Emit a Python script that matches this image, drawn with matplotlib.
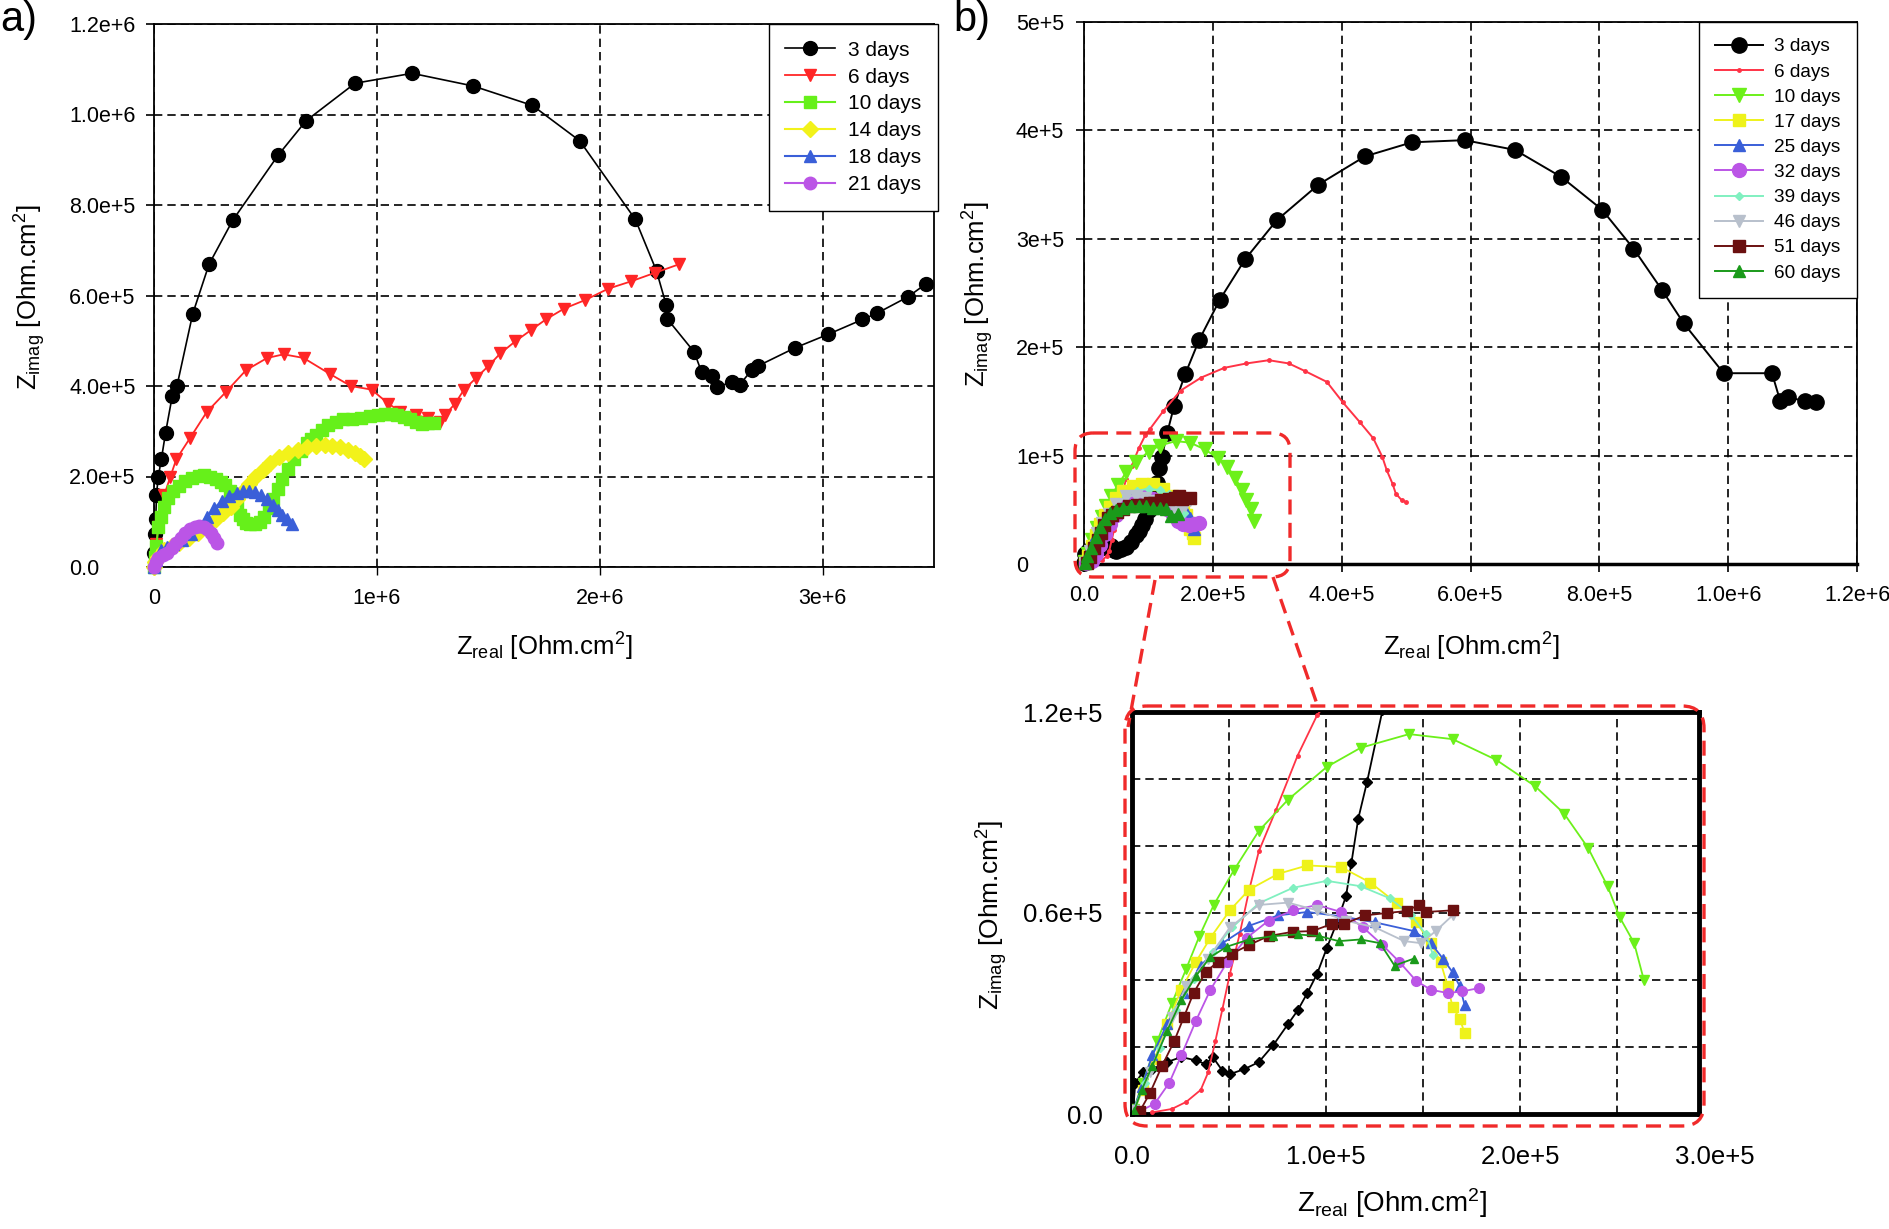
import numpy as np
import matplotlib
matplotlib.use('Agg')
import matplotlib.pyplot as plt
from matplotlib.patches import FancyBboxPatch
from matplotlib.lines import Line2D
from matplotlib.ticker import MultipleLocator
from matplotlib.transforms import offset_copy

plt.rcParams['font.family'] = ['Liberation Sans', 'DejaVu Sans']
plt.rcParams['mathtext.fontset'] = 'custom'
plt.rcParams['mathtext.rm'] = 'Liberation Sans'
plt.rcParams['mathtext.it'] = 'Liberation Sans:italic'
plt.rcParams['mathtext.bf'] = 'Liberation Sans:bold'

# ---------------- data, panel a (Zreal, Zimag) ----------------
a_3d = [(2e3, 3e4), (5e3, 7.2e4), (8e3, 1.07e5), (1.1e4, 1.59e5), (1.9e4, 1.99e5), (3.3e4, 2.38e5),
        (5.2e4, 2.97e5), (8.2e4, 3.78e5), (1.03e5, 4.0e5), (1.74e5, 5.6e5), (2.47e5, 6.69e5),
        (3.53e5, 7.66e5), (5.57e5, 9.1e5), (6.82e5, 9.86e5), (9.02e5, 1.069e6), (1.158e6, 1.091e6),
        (1.432e6, 1.063e6), (1.698e6, 1.02e6), (1.91e6, 9.42e5), (2.16e6, 7.68e5), (2.255e6, 6.54e5),
        (2.299e6, 5.78e5), (2.302e6, 5.49e5), (2.424e6, 4.75e5), (2.457e6, 4.31e5), (2.505e6, 4.22e5),
        (2.527e6, 3.98e5), (2.595e6, 4.09e5), (2.628e6, 4.03e5), (2.682e6, 4.35e5), (2.709e6, 4.44e5),
        (2.875e6, 4.84e5), (3.024e6, 5.14e5), (3.179e6, 5.47e5), (3.245e6, 5.61e5), (3.383e6, 5.97e5),
        (3.462e6, 6.25e5)]
a_6d = [(3e3, 1e4), (1e4, 5e4), (1.9e4, 8.9e4), (4.6e4, 1.59e5), (7.3e4, 1.99e5), (1.0e5, 2.38e5),
        (1.63e5, 2.86e5), (2.36e5, 3.42e5), (3.23e5, 3.87e5), (4.13e5, 4.35e5), (5.08e5, 4.62e5),
        (5.82e5, 4.7e5), (6.71e5, 4.62e5), (7.88e5, 4.27e5), (8.83e5, 4.0e5), (9.76e5, 3.92e5),
        (1.052e6, 3.61e5), (1.106e6, 3.43e5), (1.174e6, 3.35e5), (1.228e6, 3.3e5), (1.283e6, 3.21e5),
        (1.304e6, 3.35e5), (1.351e6, 3.61e5), (1.391e6, 3.92e5), (1.446e6, 4.18e5), (1.5e6, 4.44e5),
        (1.554e6, 4.72e5), (1.622e6, 4.99e5), (1.69e6, 5.23e5), (1.758e6, 5.47e5), (1.84e6, 5.71e5),
        (1.935e6, 5.9e5), (2.038e6, 6.15e5), (2.139e6, 6.31e5), (2.247e6, 6.5e5), (2.356e6, 6.69e5)]
a_10d = [(0, 0), (5e3, 2.3e4), (1.1e4, 4.6e4), (1.9e4, 8.9e4), (3e4, 1.1e5), (4.6e4, 1.33e5),
         (6.5e4, 1.52e5), (8.7e4, 1.68e5), (1.12e5, 1.8e5), (1.41e5, 1.9e5), (1.7e5, 1.97e5),
         (2.0e5, 2.02e5), (2.23e5, 2.03e5), (2.5e5, 2.0e5), (2.77e5, 1.94e5), (3.0e5, 1.88e5),
         (3.18e5, 1.81e5), (3.4e5, 1.68e5), (3.59e5, 1.51e5), (3.73e5, 1.33e5), (3.86e5, 1.16e5),
         (4.0e5, 1.05e5), (4.13e5, 9.8e4), (4.33e5, 9.5e4), (4.54e5, 9.4e4), (4.75e5, 1.0e5),
         (4.95e5, 1.11e5), (5.15e5, 1.3e5), (5.35e5, 1.51e5), (5.55e5, 1.72e5), (5.76e5, 1.94e5),
         (6.03e5, 2.16e5), (6.3e5, 2.38e5), (6.58e5, 2.56e5), (6.85e5, 2.73e5), (7.05e5, 2.82e5),
         (7.26e5, 2.91e5), (7.53e5, 3.02e5), (7.8e5, 3.13e5), (8.15e5, 3.2e5), (8.48e5, 3.26e5),
         (8.9e5, 3.28e5), (9.29e5, 3.3e5), (9.7e5, 3.33e5), (1.005e6, 3.37e5), (1.038e6, 3.39e5),
         (1.065e6, 3.38e5), (1.092e6, 3.36e5), (1.12e6, 3.31e5), (1.147e6, 3.26e5), (1.175e6, 3.21e5),
         (1.201e6, 3.17e5), (1.228e6, 3.18e5), (1.255e6, 3.19e5)]
a_14d = [(0, 0), (5e3, 1e4), (2e4, 2.2e4), (4.6e4, 3.7e4), (8e4, 4.6e4), (1.14e5, 5.4e4),
         (1.55e5, 6.5e4), (1.96e5, 7.6e4), (2.37e5, 9.1e4), (2.77e5, 1.07e5), (3.1e5, 1.2e5),
         (3.45e5, 1.33e5), (3.72e5, 1.5e5), (4.0e5, 1.68e5), (4.27e5, 1.84e5), (4.54e5, 1.99e5),
         (4.88e5, 2.15e5), (5.22e5, 2.3e5), (5.6e5, 2.42e5), (6.03e5, 2.51e5), (6.45e5, 2.59e5),
         (6.85e5, 2.65e5), (7.25e5, 2.68e5), (7.66e5, 2.69e5), (8.0e5, 2.68e5), (8.34e5, 2.65e5),
         (8.7e5, 2.59e5), (9.02e5, 2.51e5), (9.25e5, 2.45e5), (9.43e5, 2.38e5)]
a_18d = [(0, 0), (1e4, 1.5e4), (3.3e4, 3.7e4), (6e4, 4.5e4), (8.7e4, 5.0e4), (1.25e5, 6e4),
         (1.68e5, 7.2e4), (2.0e5, 9e4), (2.36e5, 1.11e5), (2.7e5, 1.3e5), (3.04e5, 1.46e5),
         (3.38e5, 1.57e5), (3.72e5, 1.64e5), (4.0e5, 1.67e5), (4.27e5, 1.68e5), (4.55e5, 1.65e5),
         (4.81e5, 1.59e5), (5.08e5, 1.5e5), (5.35e5, 1.38e5), (5.55e5, 1.27e5), (5.76e5, 1.16e5),
         (5.97e5, 1.05e5), (6.17e5, 9.4e4)]
a_21d = [(0, 0), (8e3, 1e4), (1.9e4, 1.9e4), (4e4, 2.6e4), (6e4, 3.2e4), (8e4, 4.3e4), (1.0e5, 5.4e4),
         (1.2e5, 6.5e4), (1.41e5, 7.6e4), (1.62e5, 8.3e4), (1.82e5, 8.9e4), (2.03e5, 9.1e4),
         (2.23e5, 8.9e4), (2.4e5, 8.3e4), (2.55e5, 7.6e4), (2.7e5, 6.5e4), (2.83e5, 5.4e4)]

a_labels = ['3 days', '6 days', '10 days', '14 days', '18 days', '21 days']

# ---------------- data, panel b ----------------
b_3d = [(5e2, 5e2), (1.7e3, 9.3e3), (5.5e3, 1.24e4), (1.05e4, 1.34e4), (1.8e4, 1.55e4), (2.54e4, 1.7e4),
        (3.29e4, 1.6e4), (3.79e4, 1.49e4), (4.16e4, 1.7e4), (4.66e4, 1.29e4), (5.04e4, 1.19e4),
        (5.79e4, 1.34e4), (6.53e4, 1.55e4), (7.28e4, 2.06e4), (8.03e4, 2.68e4), (8.53e4, 3.09e4),
        (9.03e4, 3.61e4), (9.53e4, 4.18e4), (1.003e5, 4.95e4), (1.052e5, 5.67e4), (1.102e5, 6.5e4),
        (1.13e5, 7.5e4), (1.165e5, 8.81e4), (1.21e5, 9.9e4), (1.29e5, 1.205e5), (1.40e5, 1.46e5),
        (1.57e5, 1.75e5), (1.79e5, 2.07e5), (2.11e5, 2.44e5), (2.5e5, 2.81e5), (2.99e5, 3.17e5),
        (3.64e5, 3.5e5), (4.36e5, 3.76e5), (5.09e5, 3.89e5), (5.91e5, 3.91e5), (6.69e5, 3.82e5),
        (7.41e5, 3.57e5), (8.04e5, 3.27e5), (8.53e5, 2.91e5), (8.97e5, 2.53e5), (9.31e5, 2.22e5),
        (9.93e5, 1.76e5), (1.068e6, 1.76e5), (1.081e6, 1.5e5), (1.093e6, 1.54e5), (1.12e6, 1.5e5),
        (1.136e6, 1.49e5)]
b_6d = [(1.05e4, 5e2), (2.05e4, 1.5e3), (2.79e4, 3.6e3), (3.54e4, 7.2e3), (3.92e4, 1.24e4),
        (4.29e4, 2.17e4), (4.66e4, 3.14e4), (5.04e4, 4.18e4), (5.54e4, 5.36e4), (6.04e4, 6.7e4),
        (6.53e4, 7.84e4), (7.41e4, 9.07e4), (8.53e4, 1.07e5), (9.53e4, 1.19e5), (1.03e5, 1.25e5),
        (1.23e5, 1.41e5), (1.5e5, 1.6e5), (1.82e5, 1.72e5), (2.18e5, 1.81e5), (2.52e5, 1.85e5),
        (2.87e5, 1.88e5), (3.18e5, 1.85e5), (3.43e5, 1.78e5), (3.77e5, 1.68e5), (4.02e5, 1.49e5),
        (4.28e5, 1.31e5), (4.49e5, 1.16e5), (4.63e5, 9.9e4), (4.7e5, 8.65e4), (4.79e5, 7.4e4),
        (4.84e5, 6.5e4), (4.93e5, 5.9e4), (5.0e5, 5.7e4)]
b_10d = [(1e3, 1.5e3), (5.5e3, 9.3e3), (1.3e4, 2.17e4), (2.05e4, 3.3e4), (2.79e4, 4.33e4),
         (3.47e4, 5.31e4), (4.21e4, 6.24e4), (5.24e4, 7.27e4), (6.53e4, 8.45e4), (8.03e4, 9.38e4),
         (1.003e5, 1.036e5), (1.177e5, 1.093e5), (1.427e5, 1.134e5), (1.651e5, 1.119e5),
         (1.876e5, 1.057e5), (2.075e5, 9.79e4), (2.225e5, 8.97e4), (2.349e5, 7.94e4), (2.449e5, 6.8e4),
         (2.511e5, 5.88e4), (2.586e5, 5.1e4), (2.636e5, 4.0e4)]
b_17d = [(1e3, 1e3), (5.5e3, 7.2e3), (1.17e4, 1.65e4), (1.8e4, 2.68e4), (2.54e4, 3.71e4),
         (3.29e4, 4.54e4), (4.04e4, 5.26e4), (5.04e4, 6.08e4), (6.04e4, 6.7e4), (7.53e4, 7.17e4),
         (9.03e4, 7.42e4), (1.077e5, 7.37e4), (1.227e5, 6.91e4), (1.364e5, 6.29e4), (1.464e5, 5.72e4),
         (1.539e5, 5.1e4), (1.589e5, 4.54e4), (1.626e5, 3.81e4), (1.651e5, 3.2e4), (1.688e5, 2.84e4),
         (1.713e5, 2.42e4)]
b_25d = [(1e3, 1.5e3), (5e3, 8.2e3), (1.05e4, 1.75e4), (1.8e4, 2.68e4), (2.67e4, 3.61e4),
         (3.54e4, 4.43e4), (4.66e4, 5.1e4), (6.04e4, 5.62e4), (7.53e4, 5.93e4), (9.03e4, 6.03e4),
         (1.077e5, 5.9e4), (1.252e5, 5.72e4), (1.452e5, 5.46e4), (1.539e5, 5.1e4), (1.601e5, 4.64e4),
         (1.651e5, 4.23e4), (1.688e5, 3.81e4), (1.713e5, 3.25e4)]
b_32d = [(3e3, 5e2), (1.17e4, 3.1e3), (1.92e4, 9.3e3), (2.54e4, 1.75e4), (3.29e4, 2.78e4),
         (4.04e4, 3.71e4), (4.91e4, 4.54e4), (5.91e4, 5.26e4), (7.03e4, 5.77e4), (8.28e4, 6.08e4),
         (9.53e4, 6.24e4), (1.077e5, 6.03e4), (1.19e5, 5.57e4), (1.289e5, 5.05e4), (1.377e5, 4.54e4),
         (1.464e5, 3.97e4), (1.539e5, 3.71e4), (1.626e5, 3.61e4), (1.701e5, 3.66e4), (1.788e5, 3.76e4)]
b_39d = [(1e3, 1.5e3), (6.7e3, 9.3e3), (1.42e4, 1.96e4), (2.29e4, 3.09e4), (3.17e4, 4.02e4),
         (4.17e4, 4.85e4), (5.16e4, 5.57e4), (6.53e4, 6.29e4), (8.28e4, 6.75e4), (1.003e5, 6.96e4),
         (1.177e5, 6.8e4), (1.327e5, 6.44e4), (1.439e5, 5.93e4), (1.514e5, 5.36e4), (1.551e5, 4.74e4)]
b_46d = [(1e3, 1.2e3), (9.2e3, 1.24e4), (2.05e4, 2.89e4), (2.79e4, 3.81e4), (3.92e4, 4.64e4),
         (5.04e4, 5.57e4), (6.53e4, 6.24e4), (8.03e4, 6.31e4), (9.53e4, 6.08e4), (1.102e5, 5.77e4),
         (1.252e5, 5.57e4), (1.402e5, 5.16e4), (1.489e5, 5.1e4), (1.564e5, 5.46e4), (1.651e5, 5.93e4)]
b_51d = [(4.2e3, 1e3), (9.2e3, 6.2e3), (1.55e4, 1.44e4), (2.17e4, 2.17e4), (2.67e4, 2.89e4),
         (3.17e4, 3.61e4), (3.79e4, 4.23e4), (4.41e4, 4.54e4), (5.16e4, 4.79e4), (6.04e4, 5.05e4),
         (7.03e4, 5.31e4), (8.28e4, 5.44e4), (9.28e4, 5.46e4), (1.028e5, 5.67e4), (1.09e5, 5.67e4),
         (1.202e5, 5.93e4), (1.314e5, 6.0e4), (1.414e5, 6.06e4), (1.476e5, 6.24e4), (1.514e5, 6.03e4),
         (1.651e5, 6.08e4)]
b_60d = [(1e3, 8e2), (5e3, 7.2e3), (1.05e4, 1.44e4), (1.8e4, 2.47e4), (2.54e4, 3.4e4), (3.29e4, 4.12e4),
         (4.04e4, 4.69e4), (4.91e4, 5.0e4), (6.04e4, 5.21e4), (7.28e4, 5.31e4), (8.53e4, 5.36e4),
         (9.65e4, 5.31e4), (1.065e5, 5.16e4), (1.177e5, 5.21e4), (1.277e5, 5.1e4), (1.352e5, 4.43e4),
         (1.452e5, 4.64e4)]

b_labels = ['3 days', '6 days', '10 days', '17 days', '25 days', '32 days', '39 days', '46 days',
            '51 days', '60 days']

# tick labels
a_xticks = [0, 1e6, 2e6, 3e6]
a_xticklabels = ['0', '1e+6', '2e+6', '3e+6']
a_yticks = [0, 2e5, 4e5, 6e5, 8e5, 1e6, 1.2e6]
a_yticklabels = ['0.0', '2.0e+5', '4.0e+5', '6.0e+5', '8.0e+5', '1.0e+6', '1.2e+6']
b_xticks = [0, 2e5, 4e5, 6e5, 8e5, 1e6, 1.2e6]
b_xticklabels = ['0.0', '2.0e+5', '4.0e+5', '6.0e+5', '8.0e+5', '1.0e+6', '1.2e+6']
b_yticks = [0, 1e5, 2e5, 3e5, 4e5, 5e5]
b_yticklabels = ['0', '1e+5', '2e+5', '3e+5', '4e+5', '5e+5']
in_xticks = [0, 1e5, 2e5]
in_xticklabels = ['0.0', '1.0e+5', '2.0e+5']
in_extra_xtick = (3e5, '3.0e+5')
in_yticks = [0, 0.6e5, 1.2e5]
in_yticklabels = ['0.0', '0.6e+5', '1.2e+5']

# styles
a_style = [dict(color='black', marker='o', ms=10, lw=1.2),
           dict(color='#ff2626', marker='v', ms=8.5, lw=1.3),
           dict(color='#66f01a', marker='s', ms=8, lw=1.5),
           dict(color='#f2f21a', marker='D', ms=8, lw=1.5),
           dict(color='#3a5fd8', marker='^', ms=8.5, lw=1.5),
           dict(color='#bb55e6', marker='o', ms=9, lw=1.5)]
b_colors = ['black', '#ff3346', '#6cf01a', '#eef21a', '#3a5fd8', '#bb55e6', '#80f0c0', '#b8c0cc',
            '#6b1010', '#1a9a1a']
b_main_mk = [('o', 11), ('.', 5), ('v', 10), ('s', 9), ('^', 9), ('o', 10), ('D', 4), ('v', 9),
             ('s', 9), ('^', 8)]
b_in_mk = [('D', 5), ('.', 5), ('v', 7), ('s', 7), ('^', 7), ('o', 7), ('D', 4), ('v', 7),
           ('s', 7), ('^', 6)]

W, H = 1890, 1229
fig = plt.figure(figsize=(W / 100, H / 100), dpi=100)


def px_axes(l, t, r, b):
    return fig.add_axes([l / W, 1 - b / H, (r - l) / W, (b - t) / H])


def ftext(x, y, s, **kw):
    fig.text(x / W, 1 - y / H, s, **kw)


grid_kw = dict(color='black', linestyle=(0, (5, 3)), linewidth=1.2)
ylab = r'Z$_{\mathrm{imag}}$ [Ohm.cm$^{2}$]'
xlab = r'Z$_{\mathrm{real}}$ [Ohm.cm$^{2}$]'

# ---------------- panel a ----------------
ax_a = px_axes(154, 24, 934, 567)
a_series = [a_3d, a_6d, a_10d, a_14d, a_18d, a_21d]
for d, lab, st in zip(a_series, a_labels, a_style):
    x, y = np.array(d).T
    ax_a.plot(x, y, label=lab, color=st['color'], marker=st['marker'], ms=st['ms'],
              lw=st['lw'], mec=st['color'], clip_on=False, zorder=3)
ax_a.set_xlim(0, 3.5e6)
ax_a.set_ylim(0, 1.2e6)
ax_a.set_xticks(a_xticks)
ax_a.set_xticklabels(a_xticklabels)
ax_a.set_yticks(a_yticks)
ax_a.set_yticklabels(a_yticklabels)
ax_a.grid(True, **grid_kw)
ax_a.set_axisbelow(True)
ax_a.tick_params(axis='x', direction='out', length=6, width=1, pad=9, labelsize=15.5)
ax_a.tick_params(axis='y', direction='out', length=6, width=1.2, pad=55, labelsize=15.5)
for t in ax_a.get_yticklabels():
    t.set_ha('left')
for s in ax_a.spines.values():
    s.set_linewidth(1.3)
ax_a.legend(loc='upper right', bbox_to_anchor=(1.005, 1.0), borderaxespad=0, fancybox=False,
            edgecolor='black', framealpha=1, fontsize=15, handlelength=2.4, handletextpad=0.6,
            labelspacing=0.38, borderpad=0.8)

# ---------------- panel b ----------------
ax_b = px_axes(1084, 22, 1857, 564)
b_series = [b_3d, b_6d, b_10d, b_17d, b_25d, b_32d, b_39d, b_46d, b_51d, b_60d]
for d, lab, c, (m, ms) in zip(b_series, b_labels, b_colors, b_main_mk):
    x, y = np.array(d).T
    ax_b.plot(x, y, label=lab, color=c, marker=m, ms=ms, mec=c, lw=1.4,
              clip_on=False, zorder=3)
ax_b.set_xlim(0, 1.2e6)
ax_b.set_ylim(0, 5e5)
ax_b.set_xticks(b_xticks)
ax_b.set_xticklabels(b_xticklabels)
ax_b.set_yticks(b_yticks)
ax_b.set_yticklabels(b_yticklabels)
ax_b.grid(True, **grid_kw)
ax_b.set_axisbelow(True)
ax_b.tick_params(axis='x', direction='out', length=6, width=1.2, pad=9, labelsize=15.5)
ax_b.tick_params(axis='y', direction='out', length=6, width=1.2, pad=43, labelsize=15.5)
for t in ax_b.get_yticklabels():
    t.set_ha('left')
for s in ax_b.spines.values():
    s.set_linewidth(1.3)
ax_b.spines['bottom'].set_linewidth(2.5)
ax_b.legend(loc='upper right', bbox_to_anchor=(1.0, 1.0), borderaxespad=0, fancybox=False,
            edgecolor='black', framealpha=1, fontsize=13.7, handlelength=2.5, handletextpad=0.6,
            labelspacing=0.41, borderpad=0.85)

# ---------------- inset ----------------
ax_in = px_axes(1132, 712, 1699, 1114)
for d, c, (m, ms) in zip(b_series, b_colors, b_in_mk):
    x, y = np.array(d).T
    ax_in.plot(x, y, color=c, marker=m, ms=ms, mec=c, lw=1.3, zorder=3)
ax_in.set_xlim(0, 2.92e5)
ax_in.set_ylim(0, 1.2e5)
ax_in.set_xticks(in_xticks)
ax_in.set_xticklabels(in_xticklabels)
ax_in.set_yticks(in_yticks)
ax_in.set_yticklabels(in_yticklabels)
ax_in.xaxis.set_minor_locator(MultipleLocator(5e4))
ax_in.yaxis.set_minor_locator(MultipleLocator(2e4))
ax_in.grid(True, which='both', **grid_kw)
ax_in.set_axisbelow(True)
ax_in.tick_params(which='both', length=0)
ax_in.tick_params(axis='x', pad=22, labelsize=18.5)
ax_in.tick_params(axis='y', pad=21, labelsize=18.5)
for s in ax_in.spines.values():
    s.set_linewidth(3.5)
tr = offset_copy(ax_in.get_xaxis_transform(), fig=fig, y=-22, units='points')
ax_in.text(in_extra_xtick[0], 0, in_extra_xtick[1], transform=tr, ha='center', va='top',
           fontsize=18.5, clip_on=False)

# ---------------- labels ----------------
ftext(544, 647, xlab, ha='center', va='center', fontsize=18.5)
ftext(1471, 647, xlab, ha='center', va='center', fontsize=18.5)
ftext(30, 297, ylab, ha='center', va='center', rotation=90, fontsize=18.5)
ftext(978, 294, ylab, ha='center', va='center', rotation=90, fontsize=18.5)
ftext(992, 915, ylab, ha='center', va='center', rotation=90, fontsize=19)
ftext(1392, 1203, xlab, ha='center', va='center', fontsize=20)
ftext(0, 0, 'a)', ha='left', va='top', fontsize=30)
ftext(953, 0, 'b)', ha='left', va='top', fontsize=30)

# ---------------- zoom boxes (pixel overlay) ----------------
ov = fig.add_axes([0, 0, 1, 1], zorder=10)
ov.set_xlim(0, W)
ov.set_ylim(H, 0)
ov.axis('off')
ov.patch.set_alpha(0)
red = '#f02a2a'
dash = (0, (4.5, 2.5))
ov.add_patch(FancyBboxPatch((1075, 433), 215, 144, boxstyle='round,pad=0,rounding_size=18',
                            fill=False, ec=red, lw=2.4, ls=dash))
ov.add_patch(FancyBboxPatch((1125, 706), 579, 420, boxstyle='round,pad=0,rounding_size=22',
                            fill=False, ec=red, lw=2.4, ls=dash))
ov.add_line(Line2D([1155, 1128], [580, 727], color=red, lw=2.4, ls=dash))
ov.add_line(Line2D([1273, 1318], [577, 707], color=red, lw=2.4, ls=dash))

fig.savefig('out.png', dpi=100)
